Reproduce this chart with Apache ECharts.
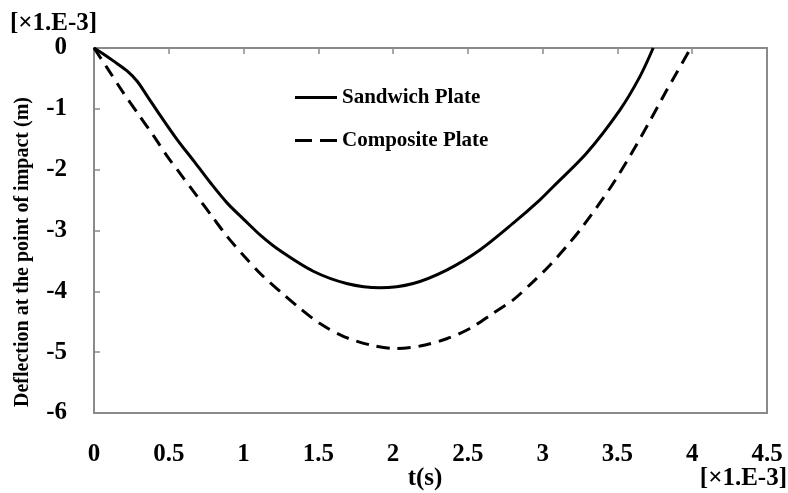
<!DOCTYPE html>
<html>
<head>
<meta charset="utf-8">
<script src="https://cdn.jsdelivr.net/npm/echarts@6/dist/echarts.min.js"></script>
<style>
  html, body { margin: 0; padding: 0; background: #fff; }
  #chart { width: 788px; height: 493px; }
</style>
</head>
<body>
<div id="chart"></div>
<script>
// Time axis ticks (units of 1e-3 s) and deflection ticks (units of 1e-3 m)
const timeTicks = [0, 0.5, 1, 1.5, 2, 2.5, 3, 3.5, 4, 4.5];
const deflectionTicks = [-6, -5, -4, -3, -2, -1, 0];

// Sandwich plate: time (1e-3 s) and deflection (1e-3 m)
const sandwichT = [0, 0.07, 0.134, 0.223, 0.29, 0.356, 0.446, 0.557, 0.668, 0.78, 0.891, 1.003, 1.114, 1.243, 1.466, 1.689, 1.912, 2.134, 2.358, 2.58, 2.803, 2.98, 3.07, 3.293, 3.516, 3.65, 3.739];
const sandwichD = [0, -0.11, -0.22, -0.38, -0.55, -0.79, -1.12, -1.51, -1.86, -2.22, -2.55, -2.82, -3.08, -3.33, -3.67, -3.87, -3.94, -3.87, -3.65, -3.32, -2.88, -2.50, -2.28, -1.73, -1.02, -0.47, 0];

// Composite plate: time (1e-3 s) and deflection (1e-3 m)
const compositeT = [0, 0.089, 0.189, 0.30, 0.40, 0.49, 0.59, 0.69, 0.79, 0.891, 1.003, 1.125, 1.248, 1.377, 1.511, 1.667, 1.845, 2.012, 2.18, 2.358, 2.513, 2.669, 2.803, 2.937, 3.048, 3.16, 3.26, 3.449, 3.583, 3.717, 3.828, 3.895, 3.99];
const compositeD = [0, -0.33, -0.71, -1.10, -1.45, -1.78, -2.11, -2.44, -2.77, -3.10, -3.42, -3.74, -4.01, -4.28, -4.53, -4.74, -4.88, -4.94, -4.90, -4.78, -4.61, -4.36, -4.14, -3.84, -3.57, -3.26, -2.96, -2.31, -1.78, -1.20, -0.70, -0.41, 0];

const seriesNames = ['Sandwich Plate', 'Composite Plate'];
const unitLabel = '[×1.E-3]';
const xName = 't(s)';
const yName = 'Deflection at the point of impact (m)';

const FONT = "'Liberation Serif', 'Times New Roman', serif";
const AXIS_GRAY = '#8a8a8a';

// Legend keys: a solid bar and a two-dash bar
const SOLID_KEY = 'path://M0 0H42V3H0Z';
const DASHED_KEY = 'path://M0 0H17V3H0Z M25 0H42V3H25Z';

const pairs = (xs, ys) => xs.map((x, i) => [x, ys[i]]);

const chart = echarts.init(document.getElementById('chart'));

const xMin = timeTicks[0], xMax = timeTicks[timeTicks.length - 1];
const xStep = timeTicks[1] - timeTicks[0];
const yMin = deflectionTicks[0], yMax = deflectionTicks[deflectionTicks.length - 1];
const yStep = deflectionTicks[1] - deflectionTicks[0];

chart.setOption({
  animation: false,
  backgroundColor: '#fff',
  grid: {
    left: 94, right: 21, top: 48, bottom: 80,
    show: true, borderColor: AXIS_GRAY, borderWidth: 2, backgroundColor: 'transparent'
  },
  legend: {
    orient: 'vertical',
    left: 290, top: 82,
    itemWidth: 42, itemHeight: 3, itemGap: 22,
    data: [
      { name: seriesNames[0], icon: SOLID_KEY },
      { name: seriesNames[1], icon: DASHED_KEY }
    ],
    itemStyle: { color: '#000', borderWidth: 0 },
    textStyle: { fontFamily: FONT, fontWeight: 'bold', fontSize: 21, color: '#000' }
  },
  xAxis: [
    {
      type: 'value', position: 'bottom',
      min: xMin, max: xMax, interval: xStep,
      axisLine: { show: false },
      axisTick: { show: false },
      splitLine: { show: false },
      axisLabel: { margin: 29, fontFamily: FONT, fontWeight: 'bold', fontSize: 25, color: '#000' }
    },
    {
      type: 'value', position: 'top',
      min: xMin, max: xMax, interval: xStep,
      axisLine: { show: true, lineStyle: { color: AXIS_GRAY, width: 2 } },
      axisTick: { show: true, inside: true, length: 6, lineStyle: { color: AXIS_GRAY, width: 1.5 } },
      axisLabel: { show: false },
      splitLine: { show: false }
    }
  ],
  yAxis: {
    type: 'value',
    min: yMin, max: yMax, interval: yStep,
    axisLine: { show: true, lineStyle: { color: AXIS_GRAY, width: 2 } },
    axisTick: { show: true, inside: true, length: 6, lineStyle: { color: AXIS_GRAY, width: 1.5 } },
    splitLine: { show: false },
    axisLabel: { margin: 27, fontFamily: FONT, fontWeight: 'bold', fontSize: 25, color: '#000' }
  },
  series: [
    {
      name: seriesNames[0], type: 'line', xAxisIndex: 0,
      data: pairs(sandwichT, sandwichD),
      showSymbol: false, symbol: 'none', smooth: 0.3,
      lineStyle: { color: '#000', width: 3 },
      itemStyle: { color: '#000' }
    },
    {
      name: seriesNames[1], type: 'line', xAxisIndex: 0,
      data: pairs(compositeT, compositeD),
      showSymbol: false, symbol: 'none', smooth: 0.3,
      lineStyle: { color: '#000', width: 3, type: [13, 8] },
      itemStyle: { color: '#000' }
    }
  ],
  graphic: [
    {
      type: 'text', left: 10, top: 11,
      style: { text: unitLabel, font: 'bold 25px ' + FONT, fill: '#000' }
    },
    {
      type: 'text', right: 1, top: 466,
      style: { text: unitLabel, font: 'bold 25px ' + FONT, fill: '#000' }
    },
    {
      type: 'text', x: 425, y: 479,
      style: { text: xName, font: 'bold 25px ' + FONT, fill: '#000', align: 'center', verticalAlign: 'middle' }
    },
    {
      type: 'text', x: 23, y: 252, rotation: Math.PI / 2,
      style: { text: yName, font: 'bold 20px ' + FONT, fill: '#000', align: 'center', verticalAlign: 'middle' }
    }
  ]
});
</script>
</body>
</html>
